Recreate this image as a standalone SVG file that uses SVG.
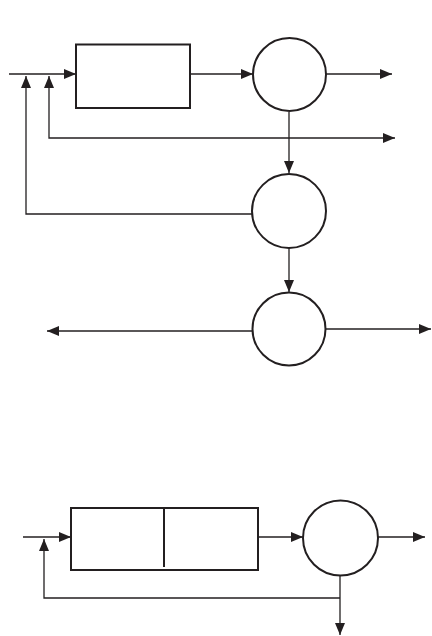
<svg xmlns="http://www.w3.org/2000/svg" width="432" height="636" viewBox="0 0 432 636">
<style>
.n{fill:#fff;stroke:#231f20;stroke-width:2}
.c{fill:none;stroke:#231f20;stroke-width:1.3}
</style>
<defs>
<marker id="ah" markerUnits="userSpaceOnUse" markerWidth="12" markerHeight="10" refX="12" refY="5" orient="auto">
<path d="M0,0 L12,5 L0,10 z" fill="#231f20"/>
</marker>
</defs>
<rect width="432" height="636" fill="#fff"/>
<g id="connectors">
<path class="c" d="M9,74 H76" marker-end="url(#ah)"/>
<path class="c" d="M190,74 H253" marker-end="url(#ah)"/>
<path class="c" d="M326,74 H392" marker-end="url(#ah)"/>
<path class="c" d="M289,112 V173" marker-end="url(#ah)"/>
<path class="c" d="M289,138 H49 V76" marker-end="url(#ah)"/>
<path class="c" d="M289,138 H395" marker-end="url(#ah)"/>
<path class="c" d="M252,214 H26 V76" marker-end="url(#ah)"/>
<path class="c" d="M289,248 V292" marker-end="url(#ah)"/>
<path class="c" d="M252,331 H47" marker-end="url(#ah)"/>
<path class="c" d="M326,329 H431" marker-end="url(#ah)"/>
<path class="c" d="M23,537 H71" marker-end="url(#ah)"/>
<path class="c" d="M256,537 H303" marker-end="url(#ah)"/>
<path class="c" d="M378,537 H425" marker-end="url(#ah)"/>
<path class="c" d="M340,576 V635" marker-end="url(#ah)"/>
<path class="c" d="M340,598 H44 V539" marker-end="url(#ah)"/>
</g>
<g id="box1"><rect class="n" x="76" y="44.5" width="114" height="63.5"/></g>
<g id="circle1"><circle class="n" cx="289.5" cy="74.5" r="36.5"/></g>
<g id="circle2"><circle class="n" cx="289" cy="211" r="37"/></g>
<g id="circle3"><circle class="n" cx="289" cy="329" r="36.5"/></g>
<g id="box2"><rect class="n" x="71" y="508" width="187" height="62"/><line class="n" x1="164" y1="508" x2="164" y2="567"/></g>
<g id="circle4"><circle class="n" cx="340.5" cy="538" r="37.5"/></g>
</svg>
